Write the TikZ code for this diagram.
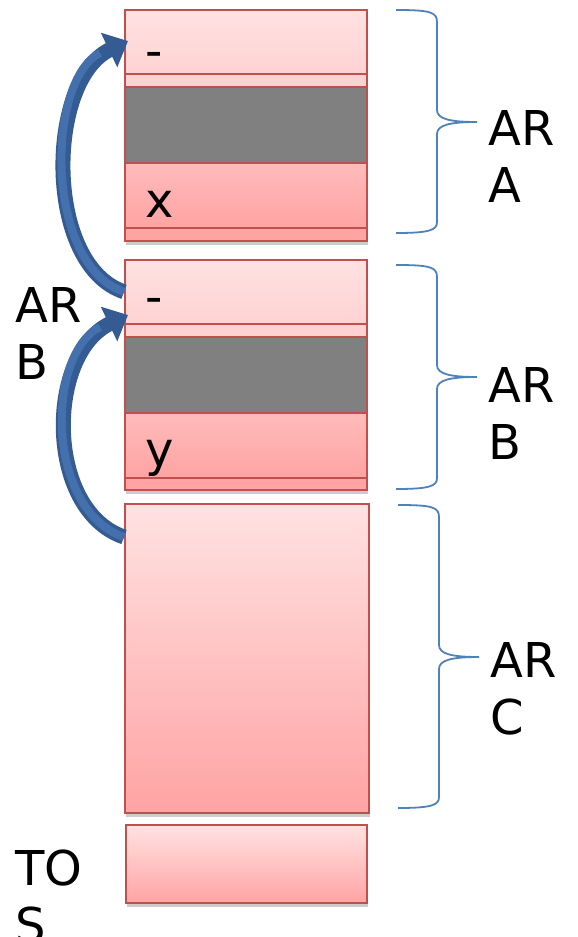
\documentclass[tikz,border=0pt]{standalone}
\usepackage{fontspec}
\setmainfont{DejaVu Sans}
\usetikzlibrary{arrows.meta,shadows}
\definecolor{cellborder}{HTML}{C0504D}
\definecolor{pinkA}{HTML}{FFE2E2}
\definecolor{pinkB}{HTML}{FFD2D2}
\definecolor{pinkC}{HTML}{FFBBBB}
\definecolor{pinkD}{HTML}{FFA3A3}
\definecolor{grayfill}{HTML}{808080}
\definecolor{bracecol}{HTML}{4F81BD}
\definecolor{arrowdark}{HTML}{355C92}
\definecolor{arrowlight}{HTML}{4470AD}
\tikzset{
  cell/.style={draw=cellborder, line width=1.6pt, rectangle, inner sep=0pt, anchor=north west, minimum width=242pt},
  shad/.style={drop shadow={opacity=0.4, shadow xshift=1pt, shadow yshift=-4pt}},
  lbl/.style={font=\fontsize{48}{57}\selectfont, inner sep=0pt, align=left, anchor=base west},
  bracepath/.style={draw=bracecol, line width=1.8pt},
  jump/.style={line width=15pt, draw=arrowdark, -{Triangle[length=21pt,width=37pt]}},
  jumpin/.style={line width=8pt, draw=arrowlight},
}
\begin{document}
\begin{tikzpicture}[x=1pt,y=-1pt]
\useasboundingbox (0,0) rectangle (578,937);
% AR A
\node[cell, shad, minimum height=231pt, fill=pinkD] (aframe) at (124,9) {};
\node[cell, minimum height=64pt, top color=pinkA, bottom color=pinkB] (adash) at (124,9) {};
\node[cell, minimum height=13pt, fill=pinkB] (astripe) at (124,73) {};
\node[cell, minimum height=76pt, fill=grayfill] (agray) at (124,86) {};
\node[cell, minimum height=65pt, top color=pinkC, bottom color=pinkD] (ax) at (124,162) {};
\node[cell, minimum height=13pt, fill=pinkD] (astripe2) at (124,227) {};
\node[lbl] (tdashA) at (145,67) {-};
\node[lbl] (tx) at (145,217) {x};
% AR B
\node[cell, shad, minimum height=230pt, fill=pinkD] (bframe) at (124,259) {};
\node[cell, minimum height=64pt, top color=pinkA, bottom color=pinkB] (bdash) at (124,259) {};
\node[cell, minimum height=13pt, fill=pinkB] (bstripe) at (124,323) {};
\node[cell, minimum height=76pt, fill=grayfill] (bgray) at (124,336) {};
\node[cell, minimum height=65pt, top color=pinkC, bottom color=pinkD] (by) at (124,412) {};
\node[cell, minimum height=12pt, fill=pinkD] (bstripe2) at (124,477) {};
\node[lbl] (tdashB) at (145,313) {-};
\node[lbl] (ty) at (145,466) {y};
% AR C
\node[cell, shad, minimum width=244pt, minimum height=309pt, top color=pinkA, bottom color=pinkD] (arc) at (124,503) {};
% TOS
\node[cell, shad, line width=2.4pt, minimum width=241pt, minimum height=78pt, top color=pinkA, bottom color=pinkD] (tos) at (125,824) {};
% braces
\draw[bracepath] (396,10) .. controls (430,10) and (437,12) .. (437,22) -- (437,110)
  .. controls (437,119) and (450,122) .. (477,122)
  .. controls (450,122) and (437,125) .. (437,134) -- (437,222)
  .. controls (437,230) and (430,233) .. (396,233);
\draw[bracepath] (396,265) .. controls (430,265) and (437,267) .. (437,277) -- (437,365)
  .. controls (437,374) and (450,377) .. (477,377)
  .. controls (450,377) and (437,380) .. (437,389) -- (437,478)
  .. controls (437,486) and (430,489) .. (396,489);
\draw[bracepath] (398,505) .. controls (432,505) and (439,507) .. (439,517) -- (439,645)
  .. controls (439,654) and (452,657) .. (479,657)
  .. controls (452,657) and (439,660) .. (439,669) -- (439,797)
  .. controls (439,805) and (432,808) .. (398,808);
% labels
\node[lbl] (lA) at (488,202) {AR\\A};
\node[lbl] (lB) at (488,459) {AR\\B};
\node[lbl] (lC) at (490,734) {AR\\C};
\node[lbl] (lBleft) at (15,379) {AR\\B};
\node[lbl] (lTOS) at (15,942) {TO\\S};
% arrows
\coordinate (ctail) at (124,537);
\coordinate (atip) at (128,41);
\coordinate (btip) at (128,315);
\draw[jump] (bdash.west) .. controls (44,265) and (46,80) .. (atip);
\draw[jumpin] (bdash.west) .. controls (44,265) and (46,80) .. (100,53);
\draw[jump] (ctail) .. controls (45,510) and (46,354) .. (btip);
\draw[jumpin] (ctail) .. controls (45,510) and (46,354) .. (100,327);
\end{tikzpicture}
\end{document}
